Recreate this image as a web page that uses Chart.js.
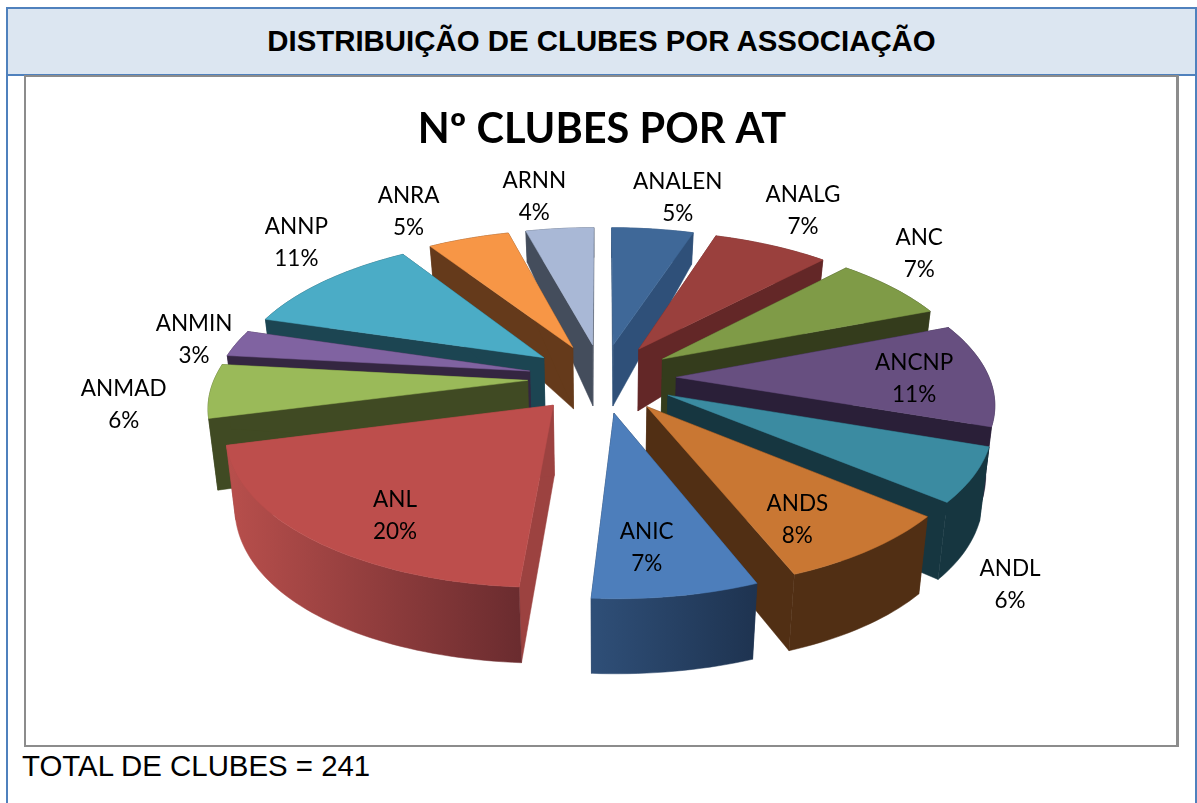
<!DOCTYPE html>
<html lang="pt">
<head>
<meta charset="utf-8">
<title>Distribuição de clubes por associação</title>
<script src="https://cdn.jsdelivr.net/npm/chart.js@4"></script>
<style>
  html, body { margin: 0; padding: 0; background: #fff; overflow: hidden; }
  #page { position: relative; width: 1197px; height: 803px; overflow: hidden; }
  #frame { position: absolute; left: 6px; top: 7px; width: 1187px; height: 810px; border: 2px solid #4f81bd; box-sizing: content-box; }
  #head { position: absolute; left: 8px; top: 9px; width: 1187px; height: 65px; background: #dce6f1; border-bottom: 2px solid #4f81bd;
          font: bold 29.4px "Liberation Sans", Arial, sans-serif; color: #000; text-align: center; line-height: 64px; letter-spacing: 0; }
  #box { position: absolute; left: 24px; top: 75px; width: 1150px; height: 668px; border: 2px solid #8c8c8c; border-right-width: 3px; background: #fff; }
  canvas { display: block; }
  #total { position: absolute; left: 22px; top: 749px; font: 29.4px "Liberation Sans", Arial, sans-serif; color: #000; line-height: 34px; white-space: nowrap; }
</style>
</head>
<body>
<div id="page">
  <div id="frame"></div>
  <div id="head">DISTRIBUIÇÃO DE CLUBES POR ASSOCIAÇÃO</div>
  <div id="box"><canvas id="c" width="1150" height="668"></canvas></div>
  <div id="total">TOTAL DE CLUBES = 241</div>
</div>
<script>
// ---- data ----
const categories = ['ANALEN','ANALG','ANC','ANCNP','ANDL','ANDS','ANIC','ANL','ANMAD','ANMIN','ANNP','ANRA','ARNN'];
const clubs      = [12,17,17,27,14,19,17,48,14,7,27,12,10];
const percents   = ['5%','7%','7%','11%','6%','8%','7%','20%','6%','3%','11%','5%','4%'];

// ---- styles ----
const topColors  = ['#3f6898','#9a403d','#7f9b47','#674f80','#3b8ba1','#c97733','#4d7ebb','#bd4e4c','#9aba59','#8063a1','#4bacc6','#f79646','#a9b8d6'];
const sideFrom   = ['#2f5079','#632727','#343c1c','#2a1f38','#163640','#512f14','#2f4f78','#b84f4c','#404a23','#342641','#1c4552','#653a1b','#444d5c'];
const sideTo     = ['#2f5079','#632727','#343c1c','#2a1f38','#163640','#512f14','#1e3350','#6b2c2f','#404a23','#342641','#1c4552','#653a1b','#444d5c'];
const radialSide = ['#2f5079','#632727','#343c1c','#2a1f38','#163640','#512f14','#1e3350','#9c4240','#404a23','#342641','#1c4552','#653a1b','#444d5c'];
const labelReach = [1.34,1.38,1.30,0.76,1.345,0.766,0.76,0.769,1.26,1.15,1.35,1.36,1.345];
const labelTurn  = [2,-1.7,-6.5,1,18,3.1,2,-4.6,-2.5,0,7.0,-4.2,-2.3];

// ---- view of the pie plane (in units of the pie radius) ----
const topPlane    = { sx: 1.565, sy: 0.724, kx: 0.1543, ky: 0.1543, dy: 0 };
const bottomPlane = { sx: 1.53, sy: 0.8335, kx: 0.15, ky: 0.0833, dy: 66.5 };

function project(el, plane, u, v) {
  const R = el.outerRadius;
  return { x: el.x + u * plane.sx * R / (1 - plane.kx * v), y: el.y + plane.dy + v * plane.sy * R / (1 - plane.ky * v) };
}
function planePoints(el, plane) {
  const off = (el.options.offset || 0) / 4 / el.outerRadius;
  const mid = (el.startAngle + el.endAngle) / 2;
  const ax = Math.cos(mid) * off, ay = Math.sin(mid) * off;
  const n = Math.max(6, Math.ceil((el.endAngle - el.startAngle) * 40));
  const rim = [];
  for (let i = 0; i <= n; i++) {
    const a = el.startAngle + (el.endAngle - el.startAngle) * i / n;
    rim.push(project(el, plane, ax + Math.cos(a), ay + Math.sin(a)));
  }
  return { apex: project(el, plane, ax, ay), rim };
}
function poly(ctx, pts, fill) {
  ctx.beginPath();
  pts.forEach((p, i) => i ? ctx.lineTo(p.x, p.y) : ctx.moveTo(p.x, p.y));
  ctx.closePath();
  ctx.fillStyle = fill; ctx.strokeStyle = fill; ctx.lineWidth = 0.5;
  ctx.fill(); ctx.stroke();
}

const pie3d = {
  id: 'pie3d',
  beforeDatasetsDraw(chart) {
    const ctx = chart.ctx, arcs = chart.getDatasetMeta(0).data;
    const order = arcs.map((el, i) => i).sort((a, b) =>
      Math.sin((arcs[a].startAngle + arcs[a].endAngle) / 2) - Math.sin((arcs[b].startAngle + arcs[b].endAngle) / 2));
    ctx.save();
    order.forEach(i => {
      const el = arcs[i], t = planePoints(el, topPlane), b = planePoints(el, bottomPlane);
      const last = t.rim.length - 1;
      poly(ctx, [t.apex, t.rim[0], b.rim[0], b.apex], radialSide[i]);
      poly(ctx, [t.apex, t.rim[last], b.rim[last], b.apex], radialSide[i]);
      const xs = t.rim.map(p => p.x);
      const g = ctx.createLinearGradient(Math.max(...xs), 0, Math.min(...xs), 0);
      const leftToRight = t.rim[0].x > t.rim[last].x;
      g.addColorStop(0, leftToRight ? sideTo[i] : sideFrom[i]);
      g.addColorStop(1, leftToRight ? sideFrom[i] : sideTo[i]);
      poly(ctx, t.rim.concat(b.rim.slice().reverse()), g);
      poly(ctx, [t.apex].concat(t.rim), topColors[i]);
    });
    ctx.restore();
    return false;
  },
  afterDraw(chart) {
    const ctx = chart.ctx, arcs = chart.getDatasetMeta(0).data;
    ctx.save();
    ctx.font = '22.5px Lato, "Open Sans", sans-serif';
    ctx.fillStyle = '#000'; ctx.textAlign = 'center'; ctx.textBaseline = 'middle';
    arcs.forEach((el, i) => {
      const off = (el.options.offset || 0) / 4 / el.outerRadius;
      const mid = (el.startAngle + el.endAngle) / 2;
      const a = mid + labelTurn[i] * Math.PI / 180;
      const p = project(el, topPlane, Math.cos(a) * (labelReach[i] + off), Math.sin(a) * (labelReach[i] + off));
      ctx.fillText(categories[i], p.x, p.y - 15);
      ctx.fillText(percents[i], p.x, p.y + 17);
    });
    ctx.restore();
  }
};

new Chart(document.getElementById('c'), {
  type: 'pie',
  data: { labels: categories, datasets: [{ data: clubs, backgroundColor: topColors, borderWidth: 0, offset: 190, radius: 200 }] },
  options: {
    responsive: false,
    animation: false,
    events: [],
    layout: { padding: { bottom: 152, left: 2 } },
    plugins: {
      legend: { display: false },
      tooltip: { enabled: false },
      title: { display: true, text: 'Nº CLUBES POR AT', color: '#000',
               font: { family: 'Lato, "Open Sans", sans-serif', size: 41.5, weight: 'bold' },
               padding: { top: 28, bottom: 8 } }
    }
  },
  plugins: [pie3d]
});
</script>
</body>
</html>
